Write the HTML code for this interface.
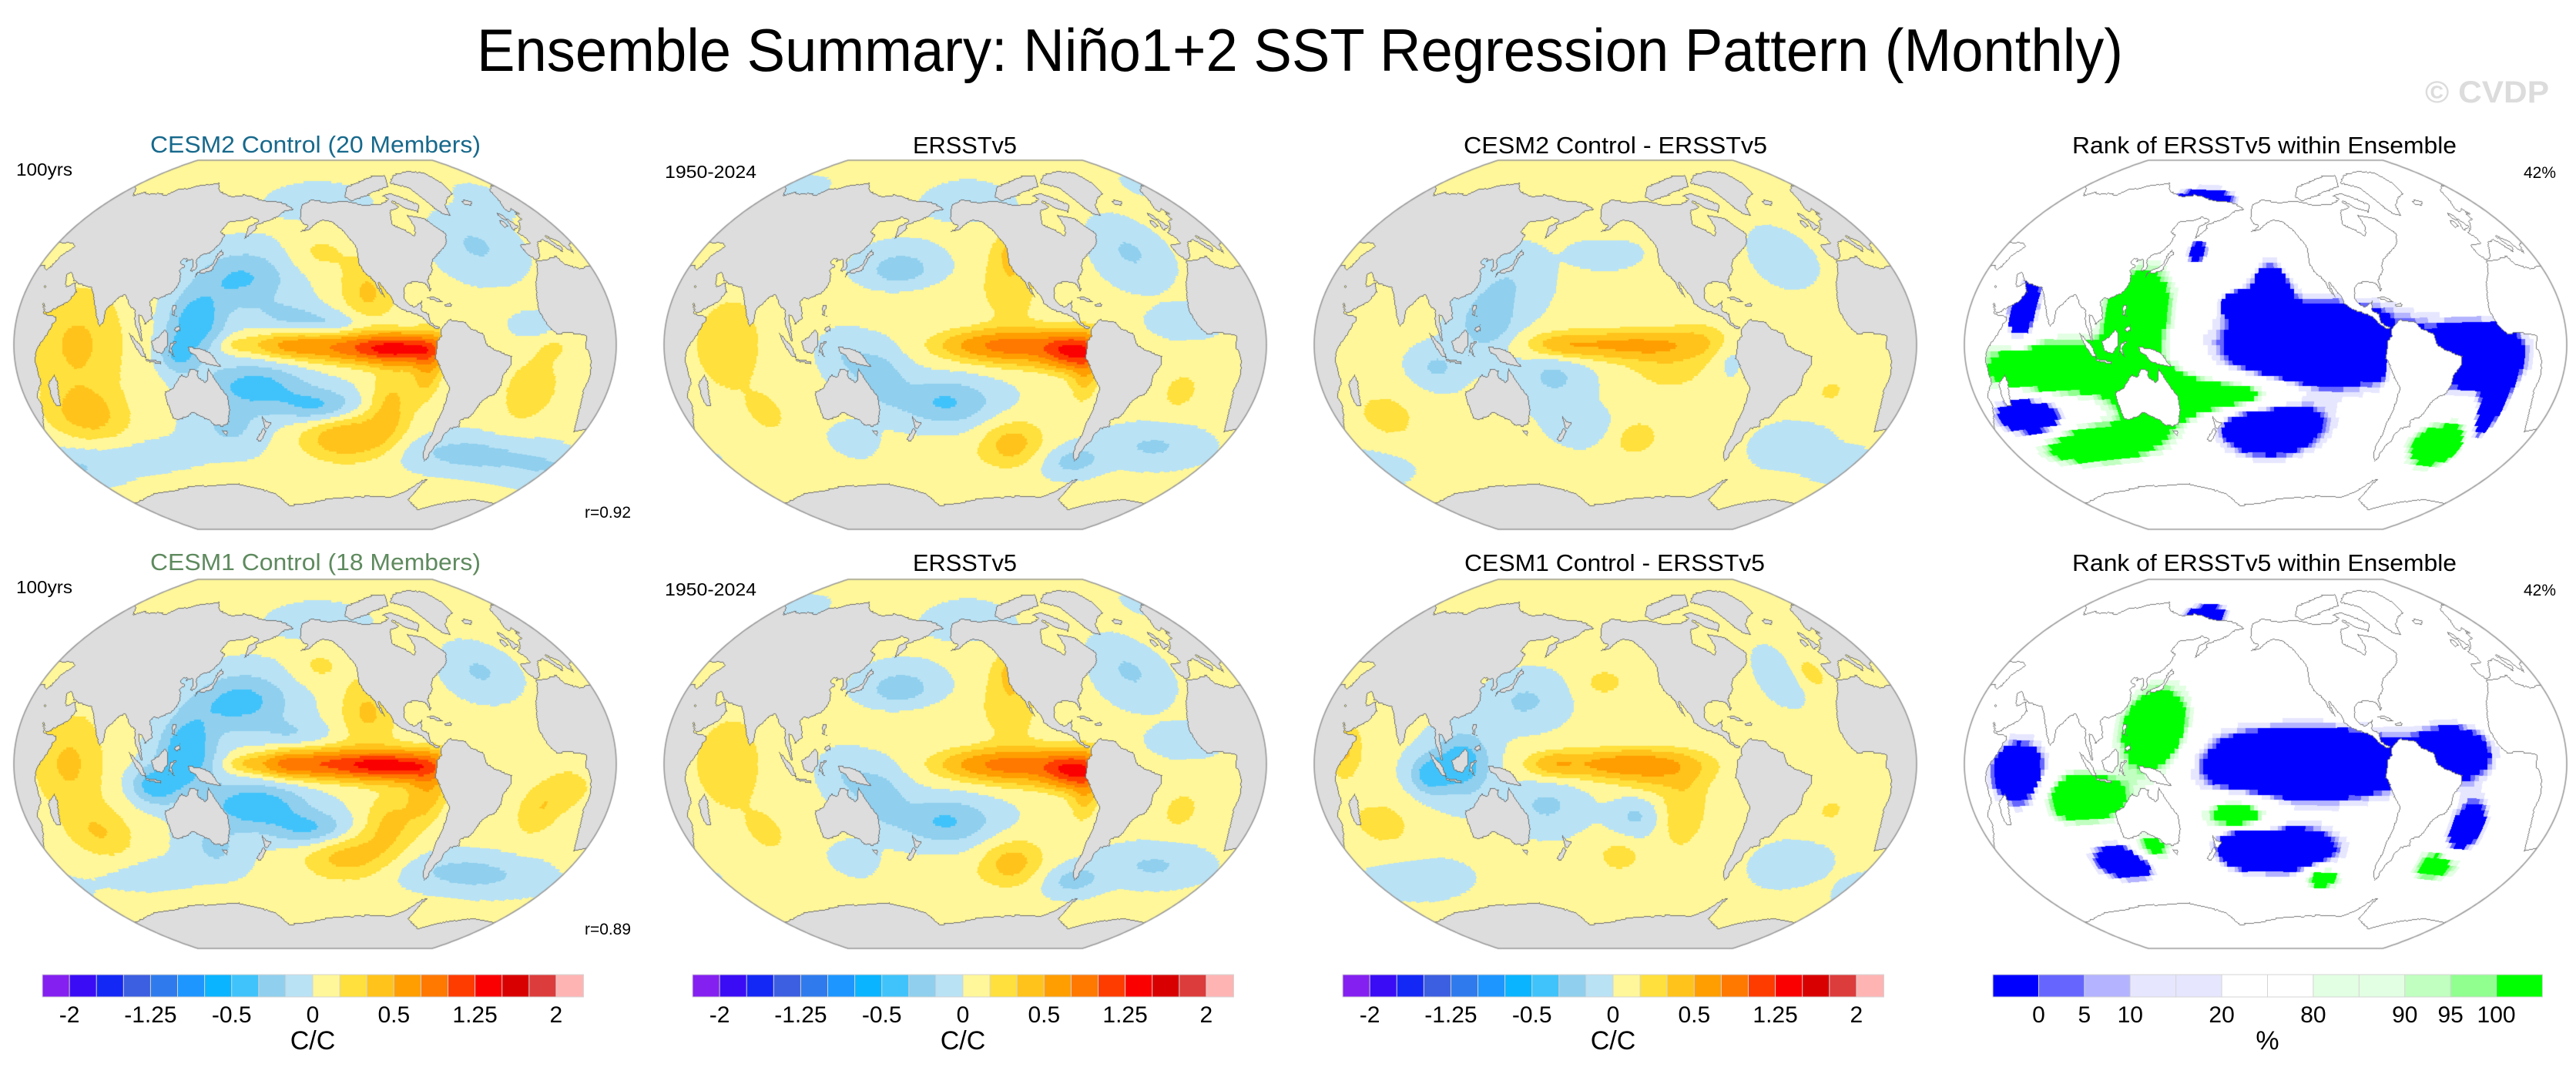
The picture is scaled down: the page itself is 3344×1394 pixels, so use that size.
<!DOCTYPE html>
<html><head><meta charset="utf-8"><title>Ensemble Summary: Niño1+2 SST Regression Pattern</title>
<style>
html,body{margin:0;padding:0;background:#fff}
#root{position:relative;width:3344px;height:1394px;overflow:hidden;background:#fff;font-family:"Liberation Sans",sans-serif}
canvas{position:absolute}
svg{position:absolute;left:0;top:0}
</style></head><body>
<div id="root">
<svg id="txt" width="3344" height="1394" font-family="Liberation Sans, sans-serif">
<text x="619" y="92" font-size="78" textLength="2137" lengthAdjust="spacingAndGlyphs">Ensemble Summary: Niño1+2 SST Regression Pattern (Monthly)</text>
<text x="3148" y="133" font-size="40" font-weight="bold" fill="#dcdcdc" textLength="161" lengthAdjust="spacingAndGlyphs">© CVDP</text>

<text x="195" y="198" font-size="31" fill="#17698c" textLength="429" lengthAdjust="spacingAndGlyphs">CESM2 Control (20 Members)</text>
<text x="1185" y="199" font-size="31" textLength="135" lengthAdjust="spacingAndGlyphs">ERSSTv5</text>
<text x="1900" y="199" font-size="31" textLength="394" lengthAdjust="spacingAndGlyphs">CESM2 Control - ERSSTv5</text>
<text x="2690" y="199" font-size="31" textLength="499" lengthAdjust="spacingAndGlyphs">Rank of ERSSTv5 within Ensemble</text>
<text x="21" y="228" font-size="23" textLength="73" lengthAdjust="spacingAndGlyphs">100yrs</text>
<text x="863" y="231" font-size="23" textLength="119" lengthAdjust="spacingAndGlyphs">1950-2024</text>
<text x="759" y="672" font-size="21" textLength="60" lengthAdjust="spacingAndGlyphs">r=0.92</text>
<text x="3276" y="231" font-size="21" textLength="42" lengthAdjust="spacingAndGlyphs">42%</text>

<text x="195" y="740" font-size="31" fill="#5e8a5e" textLength="429" lengthAdjust="spacingAndGlyphs">CESM1 Control (18 Members)</text>
<text x="1185" y="741" font-size="31" textLength="135" lengthAdjust="spacingAndGlyphs">ERSSTv5</text>
<text x="1901" y="741" font-size="31" textLength="390" lengthAdjust="spacingAndGlyphs">CESM1 Control - ERSSTv5</text>
<text x="2690" y="741" font-size="31" textLength="499" lengthAdjust="spacingAndGlyphs">Rank of ERSSTv5 within Ensemble</text>
<text x="21" y="770" font-size="23" textLength="73" lengthAdjust="spacingAndGlyphs">100yrs</text>
<text x="863" y="773" font-size="23" textLength="119" lengthAdjust="spacingAndGlyphs">1950-2024</text>
<text x="759" y="1213" font-size="21" textLength="60" lengthAdjust="spacingAndGlyphs">r=0.89</text>
<text x="3276" y="773" font-size="21" textLength="42" lengthAdjust="spacingAndGlyphs">42%</text>
<g id="cbars"></g>
</svg>
<canvas id="m0" width="786" height="483" style="left:16px;top:206px"></canvas>
<canvas id="m1" width="786" height="483" style="left:860px;top:206px"></canvas>
<canvas id="m2" width="786" height="483" style="left:1704px;top:206px"></canvas>
<canvas id="m3" width="786" height="483" style="left:2548px;top:206px"></canvas>
<canvas id="m4" width="786" height="483" style="left:16px;top:750px"></canvas>
<canvas id="m5" width="786" height="483" style="left:860px;top:750px"></canvas>
<canvas id="m6" width="786" height="483" style="left:1704px;top:750px"></canvas>
<canvas id="m7" width="786" height="483" style="left:2548px;top:750px"></canvas>
</div>
<script>
// ---- colorbar data ----
const sstLevels = [-2,-1.75,-1.5,-1.25,-1,-0.75,-0.5,-0.3,-0.15,0,0.15,0.3,0.5,0.75,1,1.25,1.5,1.75,2];
const sstColors = ['#8420f0','#3a0cf5','#1428f5','#3c5ee0','#2f7bed','#1e96ff','#0ab4ff','#40c3fa','#90cfee','#b9e2f5','#fff799','#ffe03c','#ffc31b','#ff9e00','#ff7800','#ff3c00','#fa0000','#d80000','#dc3c3c','#ffb4b4'];
const sstTickIdx = [0,3,6,9,12,15,18];
const sstTickLabels = ['-2','-1.25','-0.5','0','0.5','1.25','2'];
const rankLevels = [0,5,10,15,20,50,80,85,90,95,100];
const rankColors = ['#0000ff','#6666ff','#b3b3ff','#e6e6ff','#e6e6ff','#ffffff','#ffffff','#e3ffe3','#e3ffe3','#c0ffc0','#90ff90','#00ff00'];
const rankTickIdx = [0,1,2,4,6,8,9,10];
const rankTickLabels = ['0','5','10','20','80','90','95','100'];

// ---- field data: blobs [lon, lat, sdLon, sdLat, amplitude] ----
const cesm2Blobs = [[-100,-2,20,5,1.1],[-135,-1,25,5,0.6],[-170,0,15,4,0.35],[160,0,8,3,0.15],[-85,-10,6,10,0.4],
 [-120,25,12,12,0.3],[-150,45,14,7,0.15],[-140,10,20,5,-0.2],[-130,-45,22,8,0.45],[-105,-28,10,12,0.3],
 [160,32,22,10,-0.35],[135,10,12,10,-0.45],[125,-5,8,6,-0.3],[170,-20,22,8,-0.4],[-150,-30,18,6,-0.35],[150,-40,18,8,-0.2],[-170,15,15,5,-0.15],
 [65,0,20,18,0.3],[60,-30,18,8,0.3],[-20,-20,12,10,0.25],[-10,0,10,5,0.12],
 [-40,-50,35,6,-0.25],[30,-50,25,6,-0.15],[-40,45,18,10,-0.2],[-20,8,10,4,-0.15],[-150,70,30,6,-0.12],[90,-50,25,5,-0.12],[0,65,15,6,-0.1]];
const ersstBlobs = [[-88,-3,12,6,1.0],[-115,-1,22,6,0.65],[-145,0,20,5,0.4],[-80,-12,6,10,0.35],
 [-125,30,12,14,0.25],[-120,45,8,6,0.2],[-120,-48,15,8,0.35],[170,25,25,7,0.12],
 [165,35,18,8,-0.3],[-165,-28,22,8,-0.35],[155,-15,12,10,-0.25],[135,-5,10,8,-0.15],[-40,42,15,10,-0.2],[-20,-45,25,6,-0.2],[-70,-55,15,5,-0.25],[130,-45,10,5,-0.15],[-20,10,15,5,-0.12],[-150,70,25,6,-0.15],[40,70,20,5,-0.12],
 [65,0,15,15,0.25],[80,-30,8,6,0.2],[-20,-20,8,6,0.2],[-170,-55,20,5,0.1]];
const diff2Blobs = [[-150,0,35,5,0.5],[-120,-10,20,10,0.2],[-100,5,15,6,0.12],[175,0,12,4,0.2],
 [130,10,12,10,-0.3],[170,-15,15,10,-0.2],[-85,-5,6,8,-0.12],[-170,-40,15,6,-0.15],[140,30,15,10,-0.15],[-40,40,12,8,-0.12],[-30,-45,15,6,-0.15],[100,-10,10,6,-0.2],[-160,45,15,5,-0.1],[20,-50,20,5,-0.1],
 [-140,-45,15,8,0.2],[60,-30,15,8,0.2],[-20,-20,10,6,0.15],[-160,60,15,5,0.1]];
const cesm1Blobs = [[-100,-1,22,5,1.05],[-140,0,25,5,0.85],[-170,0,12,4,0.45],[165,0,8,3,0.2],[-85,-12,8,10,0.4],
 [-120,25,12,12,0.3],[-150,48,12,6,0.15],[-130,-45,22,8,0.35],[-105,-28,12,10,0.3],
 [160,30,22,10,-0.4],[130,5,12,12,-0.5],[170,-20,22,8,-0.45],[-155,-32,18,6,-0.35],[110,-10,10,6,-0.4],[140,-40,15,8,-0.2],[-165,15,15,5,-0.15],
 [60,0,15,15,0.3],[70,-30,15,8,0.25],[-15,-20,10,8,0.25],[-40,-50,35,6,-0.25],[-40,42,15,8,-0.2],[0,-10,10,6,0.2],[-150,70,30,6,-0.12],[90,-50,25,5,-0.12]];
const diff1Blobs = [[-150,0,30,5,0.55],[-125,-5,20,8,0.25],[170,0,10,4,0.25],[-110,-25,10,12,0.25],[-150,-45,12,6,0.2],
 [115,0,12,10,-0.45],[95,-5,8,6,-0.35],[165,-20,15,8,-0.2],[150,30,15,8,-0.2],[-40,40,10,8,-0.12],[-30,-45,15,6,-0.15],[-140,-25,10,7,-0.2],[60,-50,25,6,-0.1],
 [60,-25,15,8,0.2],[-20,-20,10,6,0.15],[45,5,8,8,0.3],[-160,40,10,5,0.2],[-20,40,8,6,0.2]];
const rank1Blobs = [[-120,0,40,14,-150],[-150,-40,25,10,-130],[-150,25,8,10,-120],[-25,-5,20,10,-130],[-10,-25,5,15,-120],[55,-30,15,6,-130],[60,15,6,10,-120],[150,70,20,4,-120],[-170,20,6,4,-110],[160,45,5,4,-100],
 [130,15,15,15,120],[80,-10,30,8,130],[140,-25,20,10,120],[-170,-25,25,6,120],[90,-45,30,6,120],[-30,-45,15,7,120],[-75,-5,3,8,90]];
const rank2Blobs = [[-130,0,45,12,-150],[-140,-42,25,8,-130],[-170,-40,10,6,-100],[60,-5,12,10,-130],[-40,5,15,8,-120],[110,-45,15,6,-130],[-25,-30,8,10,-110],[150,72,15,4,-100],
 [140,15,15,15,130],[95,-15,20,8,120],[-170,-25,15,6,110],[130,-40,10,5,100],[-110,-55,10,4,100],[-30,-45,12,6,100]];

// ---- land polygons (lon, lat) ----
const LAND = [
[[-165,68],[-156,71],[-140,69.5],[-125,70],[-110,68],[-95,68],[-85,70],[-80,66],[-90,64],[-93,58],[-85,55],[-80,52],[-77,56],[-78,62],[-72,61],[-65,60],[-60,55],[-56,52],[-60,47],[-66,44],[-70,42],[-74,40],[-76,37],[-76,35],[-81,31],[-80,26],[-81,25],[-83,29],[-89,30],[-94,29.5],[-97,27],[-97.5,22],[-95,19],[-91,18.5],[-87,21],[-88,16],[-84,15],[-83.5,11],[-80,9],[-77.5,8],[-79.5,7.5],[-81,8],[-84,9.5],[-86,11],[-88,13.2],[-92,14.5],[-96,15.8],[-101,17.5],[-105,20],[-105.5,23],[-110,27],[-113,31],[-112.5,29],[-110,24],[-109.5,23],[-112,25],[-114,28],[-115,30],[-117,32.5],[-120.5,34.5],[-122.5,37.5],[-124,40],[-124,46],[-124.5,48.5],[-127,51],[-131,55],[-136,58],[-140,60],[-147,61],[-152,59],[-158,56],[-164,55],[-158,58],[-162,59],[-165,62],[-165,65]],
[[-73,78],[-60,82],[-35,83.5],[-20,82],[-18,76],[-22,70],[-32,68],[-40,65],[-43,60],[-48,61],[-52,65],[-54,69],[-58,75],[-68,77]],
[[-90,72],[-80,73],[-70,70],[-62,66.5],[-67,63],[-75,65],[-85,70]],
[[-120,77],[-100,80],[-85,82],[-70,82],[-78,76],[-95,74],[-105,72],[-120,70],[-125,72]],
[[-77,8],[-72,12],[-62,10.5],[-60,8],[-52,5],[-50,0],[-44,-2.5],[-35,-5],[-35,-9],[-39,-14],[-39,-18],[-41,-22],[-45,-23.5],[-48.5,-26],[-51,-31],[-53.5,-34],[-58,-34.5],[-57,-38],[-62,-39],[-65,-42],[-65,-45],[-67.5,-47],[-69,-51],[-68.5,-53],[-70,-55],[-74,-52],[-75,-47],[-73.5,-42],[-73.5,-37],[-71.5,-30],[-70.5,-20],[-75,-15],[-78,-10],[-81,-6],[-80,-1],[-80,2],[-77.5,4],[-77.5,7]],
[[-17,15],[-16.5,20],[-13,27.5],[-10,30],[-6,35.8],[0,35.8],[10,37],[11,33.5],[20,30.5],[30,31.5],[32.5,30],[35,28],[39,21],[43,12.5],[51,11.5],[51,10],[47,4.5],[41,-2],[39.5,-5],[40,-10.5],[40.5,-15],[35,-20],[35.5,-24],[32.5,-28.5],[28,-33],[20,-35],[18,-32],[15,-27],[12,-18],[13.5,-12],[12,-5],[9,-1],[9.5,3.5],[5,4.5],[-2,5],[-8,4.5],[-12.5,7.5],[-15,11],[-17,14.5]],
[[44,-25],[47,-25],[50.5,-15.5],[49.5,-12],[44,-16],[43.5,-22]],
[[-9.5,43],[-9,39],[-6,36.5],[-2,36.8],[0,39],[3,42.5],[5,43.4],[9,44],[12,42],[16,38],[18.5,40],[16,41.7],[13.5,45.5],[19,42],[20,39.5],[23,36.5],[24,40],[26.5,41],[29,41],[36,41.5],[41,41],[36,36.5],[35,33],[34.2,31.3],[32.5,30],[35,28],[38,23],[43,13],[45,12.8],[52,16],[56,18],[59,22.5],[56.5,24.5],[56,26.5],[51,24],[48,29],[50,30],[54,26.8],[57,25.8],[62,25],[67,24.5],[70,21],[73,16],[75,12],[77.5,8],[80,10],[80,15.5],[82,17],[87,21.5],[90,22],[94,17],[97.5,16],[98.5,10],[100.5,7],[103,1.5],[104,1.3],[103.5,5],[100.5,13.5],[103,12.5],[105,9],[106.5,10.5],[109,12],[108,16],[106,19.5],[108,21.5],[110.5,21],[114,22.5],[117,23.5],[120,26],[121.5,30],[120.5,33],[119,35],[122,37],[118,38],[118,39.5],[121.5,40.8],[121,39],[125,40],[126.5,37],[126,34.5],[129,35],[129.5,37],[128,40],[130,42.5],[135,43.5],[140,48],[141,52.5],[137,54],[140,59],[150,59.5],[156,61.5],[160,61],[163,60],[156,57],[156,51],[160,54],[163,56],[162,58],[170,60],[178,62.5],[180,64.5],[187,65.5],[190,66],[185,67.5],[180,69],[170,70],[160,70],[150,71.5],[140,72.5],[130,71],[113,73.5],[105,77.5],[95,76],[85,75],[80,73],[72,72.5],[68,68.5],[60,69],[50,68],[44,68.5],[40,66],[33,69],[25,71],[15,68.5],[10,63.5],[5,60],[5.5,58],[8,58],[10.5,59.3],[12,56],[10,57.5],[8.5,55],[9,54],[5,53.5],[2,51],[-1.5,49.7],[-4.5,48.5],[-1.5,46],[-1.5,43.5],[-9,43.5]],
[[130,31],[131.5,34],[135,34],[140,35],[141,38],[142,41.5],[145,43.5],[142,45.5],[140,42],[139.5,38.5],[137,37],[133,35.5],[130,33.5]],
[[-5.5,50],[1.5,51],[0,53],[-2,56],[-2,57.5],[-4,58.6],[-6,57.5],[-5,55],[-3,54.5],[-4,53],[-5,51.7]],
[[-10,51.5],[-6,52],[-6,54.5],[-8,55.2],[-10,54]],
[[-24,65.5],[-18,66.5],[-13.5,65],[-18,63.5],[-22,64]],
[[109,1.5],[111,-3],[116,-4],[119,0],[119,5.5],[117,7],[113,3.5]],
[[95.5,5.5],[98,4],[104,-1],[106,-6],[104,-5.5],[101,-2.5],[98,1.5]],
[[105.5,-6.5],[114.5,-7.5],[114.5,-8.8],[106,-7.5]],
[[119,-5.5],[120.5,1],[125,1.5],[121.5,-1],[123,-5.5],[120,-3]],
[[131,-1],[138,-1.5],[145,-4],[150.5,-10.5],[147,-10],[143,-9],[138,-8],[135,-4.5],[132,-3.5]],
[[120,18.5],[122.5,18.5],[122,14],[124,13],[120.5,14]],
[[122,7],[126,9.5],[126.5,6.5],[124,6]],
[[114,-22],[114,-26],[115,-34],[118,-35],[124,-33.8],[129,-31.7],[135,-34.8],[138,-35.5],[140,-38],[146,-39],[150,-37.5],[153,-31],[153,-25],[149,-20],[145.5,-15],[142.5,-10.7],[141.5,-17],[140,-17.5],[136,-15],[137,-12],[132,-11.3],[129.5,-15],[126,-14],[122,-17.5],[120,-20]],
[[144.5,-40.7],[148.3,-41],[147,-43.5],[145.5,-42.5]],
[[172.5,-34.5],[175.5,-37],[178.5,-37.7],[177,-39.5],[175,-41.5],[173.5,-39.5]],
[[172.5,-40.5],[174.3,-41.7],[172.5,-43.7],[171,-45.5],[169,-46.6],[166.5,-46],[168,-44],[171,-42]],
[[-85,22],[-80,23.2],[-74,20.2],[-77.5,19.8],[-80,21.6]],
[[-74.5,18.5],[-70,19.8],[-68.5,18.5],[-71.5,17.8]],
[[-180,-78],[-160,-77],[-140,-75],[-120,-74],[-100,-73],[-80,-73],[-70,-70],[-62,-64],[-58,-63],[-60,-66],[-60,-74],[-40,-78],[-20,-73],[0,-70],[20,-70],[40,-69],[60,-67],[80,-67],[100,-66],[120,-66.5],[140,-66.5],[160,-70],[170,-72],[180,-78],[180,-90],[-180,-90]]
];

// ---- projection (Winkel tripel, centred on 207E) ----
const LON0 = 207, MW = 782, MH = 479, PAD = 2, CW = 786, CH = 483;
const CPHI1 = 2/Math.PI, XMAX = 0.5*(2+Math.PI), YMAX = Math.PI/2;
function wt(lonDeg, latDeg){
  const l = lonDeg*Math.PI/180, p = latDeg*Math.PI/180;
  const a = Math.acos(Math.cos(p)*Math.cos(l/2));
  const s = a < 1e-9 ? 1 : Math.sin(a)/a;
  return [0.5*(l*CPHI1 + 2*Math.cos(p)*Math.sin(l/2)/s), 0.5*(p + Math.sin(p)/s)];
}
function toPix(dlon, lat){
  const q = wt(dlon, lat);
  return [PAD + MW/2 + q[0]/XMAX*(MW/2), PAD + MH/2 - q[1]/YMAX*(MH/2)];
}
const N = CW*CH;
const pLon = new Float32Array(N).fill(NaN), pLat = new Float32Array(N).fill(NaN);
for (let lat = -90; lat <= 90.0001; lat += 0.18) {
  for (let dl = -180; dl <= 180.0001; dl += 0.18) {
    const pp = toPix(dl, lat);
    const px = Math.floor(pp[0]), py = Math.floor(pp[1]);
    if (px < 0 || py < 0 || px >= CW || py >= CH) continue;
    const i = py*CW + px;
    let lon = dl + LON0; if (lon >= 180) lon -= 360; if (lon < -180) lon += 360;
    pLon[i] = lon; pLat[i] = lat;
  }
}
const boxes = LAND.map(poly => {
  let a=1e9,b=-1e9,c=1e9,d=-1e9;
  poly.forEach(p => {a=Math.min(a,p[0]);b=Math.max(b,p[0]);c=Math.min(c,p[1]);d=Math.max(d,p[1]);});
  return [a,b,c,d];
});
function pip(poly, x, y){
  let ins = false;
  for (let i = 0, j = poly.length-1; i < poly.length; j = i++) {
    const xi = poly[i][0], yi = poly[i][1], xj = poly[j][0], yj = poly[j][1];
    if (((yi > y) !== (yj > y)) && (x < (xj-xi)*(y-yi)/(yj-yi) + xi)) ins = !ins;
  }
  return ins;
}
function isLand(lon, lat){
  for (let k = 0; k < LAND.length; k++) {
    const bb = boxes[k];
    if (lat < bb[2] || lat > bb[3]) continue;
    for (const x of [lon, lon+360]) {
      if (x < bb[0] || x > bb[1]) continue;
      if (pip(LAND[k], x, lat)) return true;
    }
  }
  return false;
}
const landG = new Uint8Array(720*360);
for (let j = 0; j < 360; j++) for (let i = 0; i < 720; i++) landG[j*720+i] = isLand(-180 + (i+0.5)/2, -90 + (j+0.5)/2) ? 1 : 0;
const pixLand = new Int8Array(N).fill(-1);
for (let i = 0; i < N; i++) {
  if (isNaN(pLon[i])) continue;
  const gi = Math.min(719, Math.floor((pLon[i]+180)*2)), gj = Math.min(359, Math.floor((pLat[i]+90)*2));
  pixLand[i] = landG[gj*720+gi];
}

function fieldValue(blobs, base, lon, lat){
  let v = base;
  for (const b of blobs) {
    let dl = lon - b[0]; if (dl > 180) dl -= 360; if (dl < -180) dl += 360;
    const zx = dl/b[2], zy = (lat - b[1])/b[3];
    v += b[4]*Math.exp(-0.5*(zx*zx + zy*zy));
  }
  return v;
}
function hex(c){return [parseInt(c.substr(1,2),16),parseInt(c.substr(3,2),16),parseInt(c.substr(5,2),16)];}
function classify(v, levels){ let k = 0; while (k < levels.length && v >= levels[k]) k++; return k; }

function drawMap(id, blobs, base, levels, colors, res, landRGB, coastRGB){
  const cv = document.getElementById(id), ctx = cv.getContext('2d');
  const nx = Math.round(360/res), ny = Math.round(180/res);
  const grid = new Uint8Array(nx*ny);
  for (let j = 0; j < ny; j++) for (let i = 0; i < nx; i++)
    grid[j*nx+i] = classify(fieldValue(blobs, base, -180+(i+0.5)*res, -90+(j+0.5)*res), levels);
  const cols = colors.map(hex);
  const img = ctx.createImageData(CW, CH), d = img.data;
  for (let i = 0; i < N; i++) {
    const L = pixLand[i]; if (L < 0) continue;
    let c;
    if (L === 1) {
      const r = (i % CW) < CW-1 ? pixLand[i+1] : 1, b = i + CW < N ? pixLand[i+CW] : 1;
      const l = (i % CW) > 0 ? pixLand[i-1] : 1, u = i - CW >= 0 ? pixLand[i-CW] : 1;
      c = (r === 0 || b === 0 || l === 0 || u === 0) ? coastRGB : landRGB;
    } else {
      const gi = Math.min(nx-1, Math.floor((pLon[i]+180)/res)), gj = Math.min(ny-1, Math.floor((pLat[i]+90)/res));
      c = cols[grid[gj*nx+gi]];
    }
    d[i*4] = c[0]; d[i*4+1] = c[1]; d[i*4+2] = c[2]; d[i*4+3] = 255;
  }
  ctx.putImageData(img, 0, 0);
  ctx.beginPath();
  let p = toPix(-180, -90); ctx.moveTo(p[0], p[1]);
  for (let lat = -90; lat <= 90; lat += 1) { p = toPix(-180, lat); ctx.lineTo(p[0], p[1]); }
  p = toPix(180, 90); ctx.lineTo(p[0], p[1]);
  for (let lat = 90; lat >= -90; lat -= 1) { p = toPix(180, lat); ctx.lineTo(p[0], p[1]); }
  ctx.closePath();
  ctx.strokeStyle = '#9a9a9a'; ctx.lineWidth = 1.6; ctx.stroke();
}
const GRAY = [221,221,221], COAST = [110,110,110], WHITE = [255,255,255], COAST2 = [120,120,120];
drawMap('m0', cesm2Blobs, 0.03, sstLevels, sstColors, 1, GRAY, COAST);
drawMap('m1', ersstBlobs, 0.03, sstLevels, sstColors, 1, GRAY, COAST);
drawMap('m2', diff2Blobs, 0.02, sstLevels, sstColors, 1, GRAY, COAST);
drawMap('m3', rank1Blobs, 50, rankLevels, rankColors, 2.5, WHITE, COAST2);
drawMap('m4', cesm1Blobs, 0.03, sstLevels, sstColors, 1, GRAY, COAST);
drawMap('m5', ersstBlobs, 0.03, sstLevels, sstColors, 1, GRAY, COAST);
drawMap('m6', diff1Blobs, 0.02, sstLevels, sstColors, 1, GRAY, COAST);
drawMap('m7', rank2Blobs, 50, rankLevels, rankColors, 2.5, WHITE, COAST2);

// ---- colorbars ----
const NS = 'http://www.w3.org/2000/svg';
const cbg = document.getElementById('cbars');
function colorbar(name, x0, x1, colors, tickIdx, tickLabels, unit){
  const g = document.createElementNS(NS, 'g');
  
  
  const w = (x1 - x0)/colors.length, y0 = 1265, h = 29;
  colors.forEach((c, k) => {
    const r = document.createElementNS(NS, 'rect');
    
    
    r.setAttribute('x', x0 + k*w); r.setAttribute('y', y0);
    r.setAttribute('width', w + 0.5); r.setAttribute('height', h);
    r.setAttribute('fill', c); r.setAttribute('stroke', '#d4d4d4'); r.setAttribute('stroke-width', '1');
    g.appendChild(r);
  });
  tickIdx.forEach((k, n) => {
    const t = document.createElementNS(NS, 'text');
    
    
    t.setAttribute('x', x0 + (k+1)*w); t.setAttribute('y', 1327);
    t.setAttribute('font-size', '30'); t.setAttribute('text-anchor', 'middle');
    t.textContent = tickLabels[n];
    g.appendChild(t);
  });
  const u = document.createElementNS(NS, 'text');
  
  
  u.setAttribute('x', (x0 + x1)/2); u.setAttribute('y', 1362);
  u.setAttribute('font-size', '34'); u.setAttribute('text-anchor', 'middle');
  u.textContent = unit;
  g.appendChild(u);
  cbg.appendChild(g);
}
colorbar('colorbar-cesm-control', 55, 757, sstColors, sstTickIdx, sstTickLabels, 'C/C');
colorbar('colorbar-ersst', 899, 1601, sstColors, sstTickIdx, sstTickLabels, 'C/C');
colorbar('colorbar-difference', 1743, 2445, sstColors, sstTickIdx, sstTickLabels, 'C/C');
colorbar('colorbar-rank', 2587, 3300, rankColors, rankTickIdx, rankTickLabels, '%');
</script>
</body></html>
